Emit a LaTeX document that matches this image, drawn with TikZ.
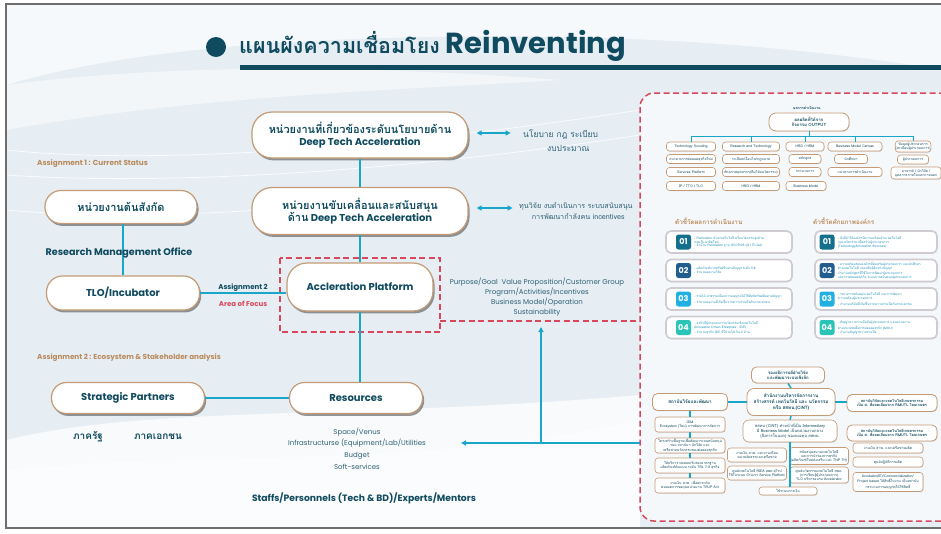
\documentclass[tikz,border=0pt]{standalone}
\usepackage{fontspec}
\setmainfont{Poppins}
\newfontfamily\tha[Script=Thai]{Loma}
\usetikzlibrary{shadows,arrows.meta,calc}
\definecolor{tealdk}{HTML}{0F4A5E}
\definecolor{cyanln}{HTML}{1AA6C9}
\definecolor{pillbd}{HTML}{C49B76}
\definecolor{redd}{HTML}{D8475C}
\definecolor{brownl}{HTML}{B98A5C}
\definecolor{bgc}{HTML}{E6EEF4}
\definecolor{txtsm}{HTML}{2F6174}
\definecolor{bA}{HTML}{136F8C}
\definecolor{bB}{HTML}{215E8E}
\definecolor{bC}{HTML}{22B0E3}
\definecolor{bD}{HTML}{2AC5B8}
\definecolor{cardbd}{HTML}{CFCBD0}
\definecolor{kpitxt}{HTML}{1C8FB5}
\definecolor{framec}{HTML}{6E6E6E}
\tikzset{
 pill/.style={draw=pillbd, line width=1.2pt, fill=white, rounded corners=16pt,
   drop shadow={shadow xshift=1.6pt, shadow yshift=-2.4pt, opacity=.5, fill=black!80},
   text=tealdk, font=\bfseries\fontsize{10}{12.5}\selectfont, align=center, inner sep=0pt},
 conn/.style={draw=cyanln, line width=2.6pt},
 dbl/.style={draw=cyanln, line width=1.4pt, {Triangle[length=5pt,width=5pt]}-{Triangle[length=5pt,width=5pt]}},
 arr/.style={draw=cyanln, line width=1.4pt, -{Triangle[length=5pt,width=5pt]}},
 reddash/.style={draw=redd, line width=1.5pt, dash pattern=on 6pt off 3.5pt},
 lbl/.style={text=tealdk, inner sep=0pt, align=center},
 ob/.style={draw=pillbd, line width=.6pt, fill=white, rounded corners=3pt, text=tealdk,
   font=\tha\fontsize{3.5}{4.1}\selectfont, align=center, inner sep=.4pt, minimum height=9pt,
   drop shadow={shadow xshift=.5pt, shadow yshift=-.7pt, opacity=.3}},
 obb/.style={ob, font=\tha\bfseries\fontsize{4.3}{5.2}\selectfont, rounded corners=5pt, line width=.8pt},
 kcard/.style={draw=cardbd, line width=1.6pt, fill=white, rounded corners=5pt, minimum height=22pt,
   drop shadow={shadow xshift=.6pt, shadow yshift=-.8pt, opacity=.25}},
 badge/.style={rounded corners=2.5pt, minimum size=15pt, inner sep=0pt, text=white,
   font=\bfseries\fontsize{8}{8}\selectfont},
 ktxt/.style={anchor=west, text=kpitxt, inner sep=0pt, align=left, font=\tha\fontsize{3.2}{3.9}\selectfont},
 thinc/.style={draw=cyanln, line width=1pt},
 midc/.style={draw=cyanln, line width=1.5pt},
}
\begin{document}
\begin{tikzpicture}[x=1pt,y=-1pt]
\clip (0,0) rectangle (941,533);
\fill[white] (0,0) rectangle (941,533);
\fill[bgc] (6,4) rectangle (945,528);
% background swooshes
\fill[white,opacity=.65] (6,4) -- (945,4) -- (945,70) .. controls (760,40) and (560,30) .. (330,40) .. controls (200,46) and (90,60) .. (6,85) -- cycle;
\fill[white,opacity=.5] (6,85) .. controls (120,70) and (300,60) .. (560,80) .. controls (400,90) and (200,95) .. (6,130) -- cycle;
\draw[white,line width=.8pt,opacity=.8] (6,150) .. controls (150,165) and (380,150) .. (640,110);
\draw[white,line width=.8pt,opacity=.8] (6,175) .. controls (150,185) and (380,175) .. (640,135);
\draw[white,line width=.8pt,opacity=.8] (6,210) .. controls (120,220) and (280,215) .. (420,190);
\fill[white,opacity=.75] (6,528) -- (6,440) .. controls (150,405) and (350,420) .. (640,395) -- (640,528) -- cycle;
\fill[white,opacity=.5] (6,528) -- (6,470) .. controls (200,450) and (420,470) .. (640,420) -- (640,528) -- cycle;
\draw[framec, line width=1.2pt] (6,4) rectangle (947,528);
% title
\fill[tealdk] (216,47) circle (10);
\node[anchor=west, text=tealdk, inner sep=0pt, font=\bfseries\fontsize{29}{32}\selectfont] (title) at (239,46) {{\tha\fontsize{21.5}{24}\selectfont แผนผังความเชื่อมโยง} Reinventing};
\fill[tealdk] (240,65) rectangle (945,69.5);
% right panel
\draw[reddash, fill=white, fill opacity=.6, rounded corners=14pt] (640,93) rectangle (965,521);
% red dashed focus area
\draw[reddash] (280,258) rectangle (440,332);
\draw[reddash] (440,321) -- (640,321);
% main nodes
\node[pill, minimum width=216pt, minimum height=46pt, rounded corners=20pt] (pol) at (360,135) {{\tha\fontsize{11}{12.5}\selectfont หน่วยงานที่เกี่ยวข้องระดับนโยบายด้าน}\\Deep Tech Acceleration};
\node[pill, minimum width=216pt, minimum height=47pt, rounded corners=20pt] (drv) at (360,211) {{\tha\fontsize{11}{12.5}\selectfont หน่วยงานขับเคลื่อนและสนับสนุน}\\{\tha\fontsize{11}{12.5}\selectfont ด้าน} Deep Tech Acceleration};
\node[pill, minimum width=146pt, minimum height=48pt, rounded corners=20pt] (acc) at (360,287) {Accleration Platform};
\node[pill, minimum width=152pt, minimum height=33pt] (ton) at (121,207) {{\tha\fontsize{11}{12}\selectfont หน่วยงานต้นสังกัด}};
\node[pill, minimum width=153pt, minimum height=34pt] (tlo) at (123,293) {TLO/Incubator};
\node[pill, minimum width=153pt, minimum height=31pt, rounded corners=15pt] (sp) at (128,398) {Strategic Partners};
\node[pill, minimum width=133pt, minimum height=31pt, rounded corners=15pt] (res) at (356,398) {Resources};
% main connectors
\draw[conn] (pol.south) -- (drv.north);
\draw[conn] (drv.south) -- (acc.north);
\draw[conn] (acc.south) -- (acc.south |- res.north);
\draw[conn] (tlo.north) -- (tlo.north |- ton.south);
\draw[conn] (tlo.east) -- (tlo.east -| acc.west);
\draw[conn] (sp.east) -- (res.west);
% labels
\node[lbl, anchor=west, text=brownl, font=\bfseries\fontsize{7.3}{8}\selectfont] (asgA) at (37,164) {Assignment 1 : Current Status};
\node[lbl, font=\bfseries\fontsize{9.6}{10}\selectfont] (rmo) at (119,253) {Research Management Office};
\node[lbl, font=\bfseries\fontsize{7}{8}\selectfont] (asgB) at (243,288) {Assignment 2};
\node[lbl, text=redd, font=\bfseries\fontsize{7}{8}\selectfont] (aof) at (243,304) {Area of Focus};
\node[lbl, anchor=west, text=brownl, font=\bfseries\fontsize{7.2}{8}\selectfont] (asgC) at (37,358) {Assignment 2 : Ecosystem \& Stakeholder analysis};
\node[lbl, font=\tha\bfseries\fontsize{10}{11}\selectfont] (gov) at (88,437) {ภาครัฐ};
\node[lbl, font=\tha\bfseries\fontsize{10}{11}\selectfont] (pri) at (158,437) {ภาคเอกชน};
\node[lbl, text=txtsm, font=\fontsize{7}{11.6}\selectfont] (restxt) at (357,448.5) {Space/Venus\\Infrastructurse (Equipment/Lab/Utilities\\Budget\\Soft-services};
\node[lbl, font=\bfseries\fontsize{9.2}{10}\selectfont] (staff) at (364,498) {Staffs/Personnels (Tech \& BD)/Experts/Mentors};
\node[lbl, text=txtsm, font=\fontsize{7}{9.8}\selectfont] (purp) at (537,297) {Purpose/Goal\ \ Value Proposition/Customer Group\\Program/Activities/Incentives\\Business Model/Operation\\Sustainability};
\node[lbl, anchor=west, text=txtsm, font=\tha\fontsize{8.5}{14}\selectfont] (poltxt) at (523,141) {นโยบาย กฎ ระเบียบ\\\hphantom{นโย}งบประมาณ};
\node[lbl, anchor=west, text=txtsm, font=\tha\fontsize{7.2}{10.5}\selectfont] (drvtxt) at (519,211) {ทุนวิจัย งบดำเนินการ ระบบสนับสนุน\\\hphantom{ทุ}การพัฒนากำลังคน incentives};
\draw[dbl] ([xshift=8pt,yshift=2pt]pol.east) -- ([xshift=42pt,yshift=2pt]pol.east);
\draw[dbl] ([xshift=8pt,yshift=3pt]drv.east) -- ([xshift=44pt,yshift=3pt]drv.east);
\coordinate (pin) at (640,443);
\coordinate (pend) at (461,443);
\coordinate (pup) at (541,443);
\coordinate (ptop) at (541,327);
\draw[arr] (pin) -- (pend);
\draw[arr] (pup) -- (ptop);
% ===== right panel: top org chart =====
\node[text=tealdk, inner sep=0pt, font=\tha\bfseries\fontsize{3.6}{4}\selectfont] (outlbl) at (807,108) {ผลการดำเนินงาน};
\node[obb, minimum width=80pt, minimum height=18pt, rounded corners=7pt] (out) at (809,122) {ผลผลิตที่ได้จาก\\กิจกรรม OUTPUT};
\node[ob, minimum width=49pt] (c11) at (691,146.5) {Technology Scouting};
\node[ob, minimum width=49pt] (c12) at (691,159) {แนวทางการต่อยอดธุรกิจใหม่};
\node[ob, minimum width=49pt] (c13) at (691,172) {Services Platform};
\node[ob, minimum width=49pt] (c14) at (691,186) {IP / TTO / TLO};
\node[ob, minimum width=57pt] (c21) at (751,146.5) {Research and Technology};
\node[ob, minimum width=57pt] (c22) at (751,159) {ระเบียบ/เงื่อนไข/กฎหมาย};
\node[ob, minimum width=57pt] (c23) at (751,172) {ศักยภาพบุคลากร(ทีมวิจัยนวัตกรรม)};
\node[ob, minimum width=57pt] (c24) at (751,186) {HRD / HRM};
\node[ob, minimum width=38pt] (c31) at (805,146.5) {HRD / HRM};
\node[ob, minimum width=32pt] (c32) at (805,159) {หลักสูตร};
\node[ob, minimum width=32pt] (c33) at (805,172) {กระบวนการ};
\node[ob, minimum width=40pt] (c34) at (806,186) {Business Model};
\node[ob, minimum width=54pt] (c41) at (855,146.5) {Business Model Canvas};
\node[ob, minimum width=33pt] (c42) at (851,159) {นักศึกษา};
\node[ob, minimum width=54pt] (c43) at (855,172) {แนวทางการดำเนินงาน};
\node[ob, minimum width=31pt, minimum height=11pt] (c51) at (913,146.5) {ข้อมูลผู้ประกอบการ\\(ทะเบียนผู้ประกอบการ)};
\node[ob, minimum width=31pt] (c52) at (913,159.5) {ผู้ประกอบการ};
\node[ob, minimum width=50pt, minimum height=12pt] (c53) at (916,173) {อาจารย์ / นักวิจัย /\\บุคลากรภายในและภายนอก};
\coordinate (hl) at (0,136);
\draw[thinc] (out.south) -- (out.south |- hl);
\draw[thinc] (c11.north) -- (c11.north |- hl) -- (c51.north |- hl) -- (c51.north);
\draw[thinc] (c21.north) -- (c21.north |- hl);
\draw[thinc] (c31.north) -- (c31.north |- hl);
\draw[thinc] (c41.north) -- (c41.north |- hl);
% ===== KPI section =====
\node[anchor=west, inner sep=0pt, text=brownl, font=\tha\bfseries\fontsize{6.3}{7}\selectfont] (kh1) at (675,221) {ตัวชี้วัดผลการดำเนินงาน};
\node[anchor=west, inner sep=0pt, text=brownl, font=\tha\bfseries\fontsize{6.3}{7}\selectfont] (kh2) at (813,221) {ตัวชี้วัดศักยภาพองค์กร};
\foreach \y/\n/\c in {242/01/bA, 270.5/02/bB, 299/03/bC, 327.5/04/bD}{
  \node[kcard, minimum width=126pt] (kl\n) at (729,\y) {};
  \node[badge, fill=\c] (bl\n) at (683.5,\y) {\n};
  \node[kcard, minimum width=122pt] (kr\n) at (876,\y) {};
  \node[badge, fill=\c] (br\n) at (827,\y) {\n};
}
\node[ktxt] (tl01) at ([xshift=3pt]bl01.east) {- Publication ด้านเทคโนโลยี หรือนวัตกรรมสูงด้าน\\ทฤษฎีแนวคิดใหม่\\- จำนวน Publication ฐาน SCOPUS (Q1 ถึง Q2)};
\node[ktxt] (tl02) at ([xshift=3pt]bl02.east) {- ผลิตภัณฑ์จากทรัพย์สินทางปัญญาระดับ 5-6\\- จำนวนผลงานวิจัย};
\node[ktxt] (tl03) at ([xshift=3pt]bl03.east) {- รายได้ ค่าธรรมเนียมการอนุญาตให้ใช้สิทธิทรัพย์สินทางปัญญา\\- จำนวนผลงานที่เกิดขึ้นจากความร่วมมือกับภาคเอกชน};
\node[ktxt] (tl04) at ([xshift=3pt]bl04.east) {- ธุรกิจที่ผู้ประกอบการนวัตกรรมเชิงเทคโนโลยี\\(Innovation Driven Enterprise : IDE)\\- จำนวนธุรกิจ IDE ที่มีรายได้เกิน 2 ล้าน};
\node[ktxt] (tr01) at ([xshift=3pt]br01.east) {- สิ่งที่ทำให้องค์กรมีความพร้อมด้านเทคโนโลยี\\และนวัตกรรม เพื่อสร้างผู้ประกอบการ\\(Technology/Innovation Structure)};
\node[ktxt] (tr02) at ([xshift=3pt]br02.east) {- ความพร้อมขององค์กรที่ส่งเสริมผู้ประกอบการ และนักศึกษา\\ด้านเทคโนโลยี และทรัพย์สินทางปัญญา\\จำนวนหลักสูตรที่ใช้ในการพัฒนาผู้ประกอบการ\\และการต่อยอดธุรกิจ ระบบการสนับสนุนผู้ประกอบการ};
\node[ktxt] (tr03) at ([xshift=3pt]br03.east) {- ระบบการสนับสนุนเทคโนโลยี และการพัฒนา\\ความพร้อมผู้ประกอบการ\\- จำนวนบริษัทที่เกิดขึ้นจากความร่วมมือกับภาคเอกชน};
\node[ktxt] (tr04) at ([xshift=3pt]br04.east) {- สัญญาความร่วมมือกับผู้ประกอบการ และหน่วยงาน\\ต่างประเทศเพื่อการต่อยอดธุรกิจ (MOU)\\- จำนวนสัญญาความร่วมมือ};
% ===== bottom org chart =====
\node[obb, minimum width=73pt, minimum height=16pt] (vp) at (788,375) {รองอธิการบดีฝ่ายวิจัย\\และพัฒนาระบบเชิงลึก};
\node[obb, minimum width=88pt, minimum height=27pt, rounded corners=7pt, font=\tha\bfseries\fontsize{4.6}{5.6}\selectfont] (ci) at (791,402) {สำนักงานบริหารจัดการงาน\\สร้างสรรค์ เทคโนโลยี และ นวัตกรรม\\หรือ สสทน.(CiNT)};
\node[obb, minimum width=75pt, minimum height=17pt, font=\tha\bfseries\fontsize{4.6}{5.6}\selectfont] (ri) at (690,402) {สถาบันวิจัยและพัฒนา};
\node[obb, minimum width=90pt, minimum height=17pt, font=\tha\bfseries\fontsize{3.8}{4.6}\selectfont] (ag) at (892,403) {สถาบันวิจัยและเทคโนโลยีเกษตรกรรม\\เป็น ศ. ที่ยอดเยี่ยมจาก RMUTL โดยเกษตร};
\node[obb, minimum width=90pt, minimum height=16pt, font=\tha\bfseries\fontsize{3.8}{4.6}\selectfont] (agB) at (892,433) {สถาบันวิจัยและเทคโนโลยีเกษตรกรรม\\เป็น ศ. ที่ยอดเยี่ยมจาก RMUTL โดยเกษตร};
\node[ob, minimum width=94pt, minimum height=22pt, rounded corners=6pt, font=\tha\fontsize{4}{4.9}\selectfont] (cB) at (790,431) {สสทน (CiNT) ทำหน้าที่เป็น Intermediary\\มี Business Model เป็นหน่วยงานกลาง\\(สิ่งการในนอก) ของกองทุน สสทน.};
\node[ob, minimum width=70pt, minimum height=15pt] (l1) at (690,424.5) {IDM\\Ecosystem (ใหม่) การพัฒนาการจัดการ};
\node[ob, minimum width=70pt, minimum height=15pt] (l2) at (690,445.5) {โครงสร้างพื้นฐานเพื่อพัฒนาระบบสนับสนุน\\ของ สถาบันฯ นักวิจัย และ\\เครือข่ายนวัตกรรมของต่อยอดธุรกิจ};
\node[ob, minimum width=70pt, minimum height=15pt] (l3) at (690,465.5) {ให้บริการ ทดสอบ/รับรองมาตรฐาน\\ผลิตภัณฑ์ต้นแบบ ระดับ TRL 7-9 ธุรกิจ};
\node[ob, minimum width=70pt, minimum height=15pt] (l4) at (690,485.5) {งานเงิน สวพ. เพื่อยกระดับ\\ต่อยอดการขอทุนหน่วยงาน TRUP Act};
\node[ob, minimum width=59pt, minimum height=14pt] (s1) at (757,455) {งานเงิน สวพ. และงานเทียม\\หน่วยจัดสรรและเครือข่าย};
\node[ob, minimum width=59pt, minimum height=14pt] (s2) at (757,473) {ศูนย์เทคโนโลยี RIEA สพท.ยุโรป\\ใช้ในระบบ บ้านเรา Service Platform};
\node[ob, minimum width=59pt, minimum height=17pt] (s3) at (819,456) {สนับสนุนสนามเทคโนโลยี\\และการนำร่องการธุรกิจ\\(ผลิตภัณฑ์ใหม่ส่งเสริม และ TNP TH)};
\node[ob, minimum width=59pt, minimum height=16pt] (s4) at (819,475) {ศูนย์นวัตกรรมเทคโนโลยี สพท.\\(การเรียนรู้ผู้ประกอบการ)\\TLO บริหารอบรม Accelerator};
\node[ob, minimum width=58pt, minimum height=8pt] (bt) at (788,491) {ใช้ระบบการเงิน};
\node[ob, minimum width=70pt, minimum height=10pt] (g1) at (888,448) {งานเงิน สวพ. และเครือข่ายผลิต};
\node[ob, minimum width=70pt, minimum height=10pt] (g2) at (888,462) {ศูนย์ปฏิบัติการผลิต};
\node[ob, minimum width=70pt, minimum height=19pt] (g3) at (888,482) {Incubator(IE)/Commercialization/\\Project based ให้สิทธิ์ในงาน เป็นสถาบัน\\กระบวนการอนุญาตให้ใช้สิทธิ์};
\draw[midc] (vp.south) -- (ci.north);
\draw[midc] (ci.west) -- (ri.east);
\draw[midc] (ci.east) -- (ci.east -| ag.west);
\draw[midc] (ci.south) -- (cB.north);
\draw[midc] (cB.south) -- (cB.south |- bt.north);
\draw[midc] (ri.south) -- (l1.north);
\draw[midc] (l1.south) -- (l2.north);
\draw[midc] (l2.south) -- (l3.north);
\draw[midc] (l3.south) -- (l4.north);
\end{tikzpicture}
\end{document}
